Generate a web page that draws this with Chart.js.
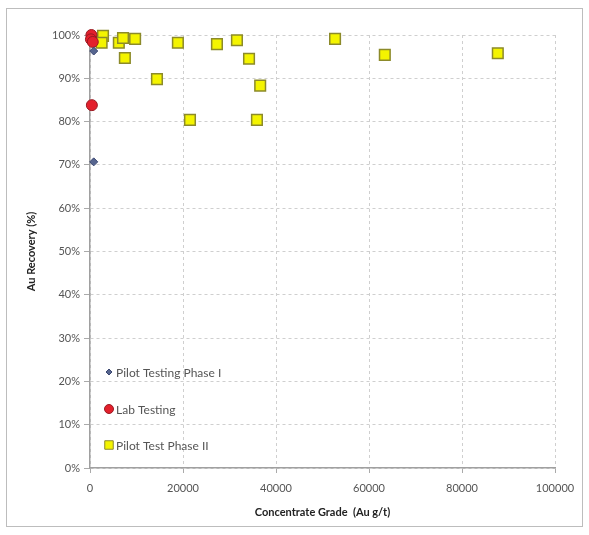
<!DOCTYPE html>
<html>
<head>
<meta charset="utf-8">
<script src="https://cdn.jsdelivr.net/npm/chart.js@4.4.1/dist/chart.umd.min.js"></script>
<style>
  body { margin: 0; background: #fff; }
  .wrap { position: relative; width: 589px; height: 535px; }
  .frame { position: absolute; left: 6px; top: 8px; width: 575px; height: 517px; border: 1px solid #bdbdbd; pointer-events: none; }
</style>
</head>
<body>
<div class="wrap">
  <canvas id="myChart" width="589" height="535"></canvas>
  <div class="frame"></div>
</div>
<script>
// data: x = concentrate grade (Au g/t), y = Au recovery (%)
const pilotPhase1X = [800, 800];
const pilotPhase1Y = [96.3, 70.7];

const labX = [300, 200, 600, 400];
const labY = [100, 99, 98.4, 83.8];

const pilotPhase2X = [2800, 2500, 6200, 7100, 9700, 7500, 14400, 18900, 21500, 27300, 31600, 34200, 35900, 36600, 52700, 63400, 87700];
const pilotPhase2Y = [99.8, 98.2, 98.2, 99.3, 99.1, 94.7, 89.8, 98.2, 80.4, 97.9, 98.8, 94.5, 80.4, 88.3, 99.1, 95.4, 95.8];

const xTicks = [0, 20000, 40000, 60000, 80000, 100000];
const yTicks = [0, 10, 20, 30, 40, 50, 60, 70, 80, 90, 100];

const seriesNames = ["Pilot Testing Phase I", "Lab Testing", "Pilot Test Phase II"];

const toPoints = (xs, ys) => xs.map((x, i) => ({ x: x, y: ys[i] }));

const font = "Lato, 'Open Sans', sans-serif";

// legend drawn inside the plot, like the original
const insideLegend = {
	id: "insideLegend",
	afterDraw(chart) {
		const ctx = chart.ctx;
		const rows = [372, 409, 445];
		ctx.save();
		chart.data.datasets.forEach((ds, i) => {
			const y = rows[i];
			ctx.fillStyle = ds.backgroundColor;
			ctx.strokeStyle = ds.borderColor;
			ctx.lineWidth = 1;
			Chart.helpers.drawPoint(ctx, { pointStyle: ds.pointStyle, radius: ds.legendRadius, borderWidth: 1 }, 109, y);
			ctx.fillStyle = "#555";
			ctx.font = "12px " + font;
			ctx.textBaseline = "middle";
			ctx.fillText(ds.label, 116, y + 1);
		});
		ctx.restore();
	},
};

new Chart(document.getElementById("myChart"), {
	type: "scatter",
	data: {
		datasets: [
			{
				label: seriesNames[0],
				data: toPoints(pilotPhase1X, pilotPhase1Y),
				pointStyle: "rectRot",
				pointRadius: 4,
				legendRadius: 3,
				backgroundColor: "#56658f",
				borderColor: "#3a4670",
				borderWidth: 1,
				clip: false,
			},
			{
				label: seriesNames[1],
				data: toPoints(labX, labY),
				pointStyle: "circle",
				pointRadius: 5.5,
				legendRadius: 4.5,
				backgroundColor: "#e3202c",
				borderColor: "#9a1a22",
				borderWidth: 1,
				clip: false,
			},
			{
				label: seriesNames[2],
				data: toPoints(pilotPhase2X, pilotPhase2Y),
				pointStyle: "rect",
				pointRadius: 7.5,
				legendRadius: 6,
				backgroundColor: "#f4f400",
				borderColor: "#8c8a2a",
				borderWidth: 1.5,
				clip: false,
			},
		],
	},
	options: {
		responsive: false,
		animation: false,
		layout: { padding: { left: 0, top: 35, right: 34, bottom: 0 } },
		plugins: {
			legend: { display: false },
			tooltip: { enabled: false },
		},
		scales: {
			x: {
				type: "linear",
				min: 0,
				max: 100000,
				afterFit: (s) => { s.height = 67; },
				afterBuildTicks: (s) => { s.ticks = xTicks.map((v) => ({ value: v })); },
				ticks: {
					padding: 9,
					color: "#555",
					font: { family: font, size: 11 },
					maxRotation: 0,
					callback: (v) => String(v),
				},
				grid: {
					color: "#cfcfcf",
					tickLength: 5,
					tickColor: "#aaa",
					tickBorderDash: [],
				},
				border: { color: "#a0a0a0", width: 1.5, dash: [3, 3] },
				title: {
					display: true,
					text: "Concentrate Grade  (Au g/t)",
					color: "#222",
					font: { family: font, size: 11, weight: "bold" },
					padding: { top: 0, bottom: 16 },
				},
			},
			y: {
				min: 0,
				max: 100,
				afterFit: (s) => { s.width = 90; },
				afterBuildTicks: (s) => { s.ticks = yTicks.map((v) => ({ value: v })); },
				ticks: {
					padding: 4,
					color: "#555",
					font: { family: font, size: 11 },
					callback: (v) => v + "%",
				},
				grid: {
					color: "#cfcfcf",
					tickLength: 6,
					tickColor: "#aaa",
					tickBorderDash: [],
				},
				border: { color: "#a0a0a0", width: 1.5, dash: [3, 3] },
				title: {
					display: true,
					text: "Au Recovery (%)",
					color: "#222",
					font: { family: font, size: 11, weight: "bold" },
					padding: { top: 25, bottom: 0 },
				},
			},
		},
	},
	plugins: [insideLegend],
});
</script>
</body>
</html>
